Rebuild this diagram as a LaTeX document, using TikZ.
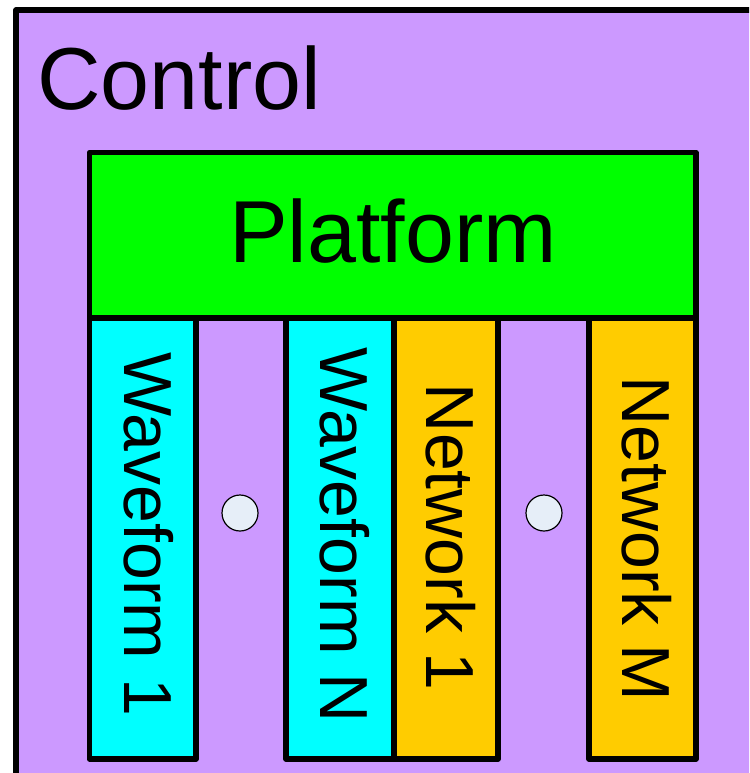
\documentclass[tikz,border=0pt]{standalone}
\usepackage{fontspec}
\setmainfont{Liberation Sans}
\definecolor{ctrlpurple}{HTML}{CC99FF}
\definecolor{platgreen}{HTML}{00FF00}
\definecolor{wavecyan}{HTML}{00FFFF}
\definecolor{netorange}{HTML}{FFCC00}
\definecolor{dotgray}{HTML}{E6EEF8}
\tikzset{
    block/.style={draw=black, line width=5.5pt, line join=round},
    bigtext/.style={inner sep=0pt, font=\fontsize{88}{90}\selectfont},
    coltext/.style={inner sep=0pt, rotate=-90, anchor=base, font=\fontsize{68}{70}\selectfont},
    dot/.style={circle, draw=black, line width=1.2pt, fill=dotgray, minimum size=36pt, inner sep=0pt}
}
\begin{document}
\begin{tikzpicture}[x=1pt,y=-1pt]

    \clip (0,0) rectangle (749,773);

    % outer control box
    \draw[block, fill=ctrlpurple] (16,10) rectangle (800,830);
    \node[bigtext, anchor=base west] (control) at (37,110) {Control};

    % platform
    \draw[block, fill=platgreen] (89.5,152.5) rectangle (696,318);
    \node[bigtext, anchor=base] (platform) at (393,262) {Platform};

    % columns
    \draw[block, fill=wavecyan] (89.5,318) rectangle (196,759);
    \draw[block, fill=wavecyan] (286,318) rectangle (394,759);
    \draw[block, fill=netorange] (394,318) rectangle (498,759);
    \draw[block, fill=netorange] (589,318) rectangle (696,759);

    \node[coltext] (wave1) at (124,534) {Waveform 1};
    \node[coltext] (waveN) at (320,535) {Waveform N};
    \node[coltext] (net1) at (426,537) {Network 1};
    \node[coltext] (netM) at (622,539) {Network M};

    \node[dot] (dotwave) at (240,513) {};
    \node[dot] (dotnet) at (544,513) {};

\end{tikzpicture}
\end{document}
